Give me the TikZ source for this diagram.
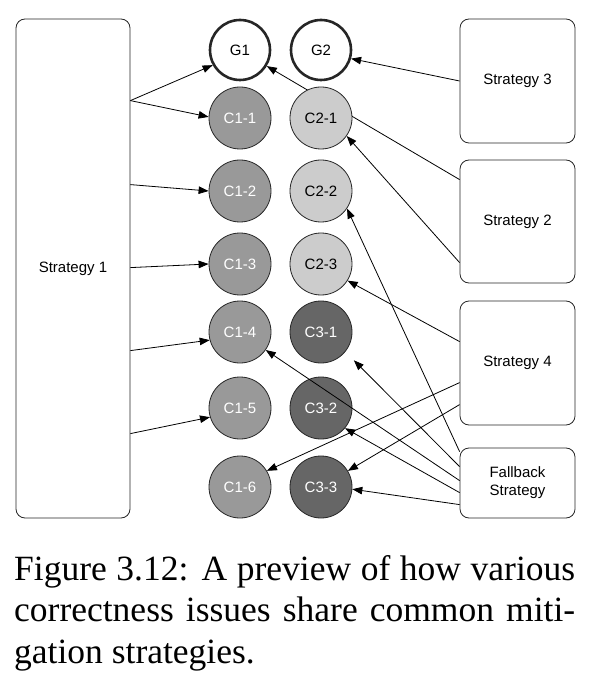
\documentclass[tikz,border=0pt]{standalone}
\usepackage{fontspec}
\setmainfont{Liberation Serif}
\setsansfont{Liberation Sans}
\usepackage{tikz}
\usetikzlibrary{positioning, arrows.meta, calc, backgrounds}
\definecolor{gris_c1}{HTML}{999999}
\definecolor{gris_c2}{HTML}{CCCCCC}
\definecolor{gris_c3}{HTML}{666666}
\tikzset{
    box_estrategia/.style={rectangle, rounded corners=9pt, draw=black!85, line width=0.8pt, fill=white, minimum width=115pt, inner sep=0pt, align=center, font=\sffamily\fontsize{15}{18}\selectfont},
    circ_base/.style={circle, draw=black!85, line width=0.8pt, minimum size=62pt, inner sep=0pt, font=\sffamily\fontsize{15}{18}\selectfont},
    flecha/.style={-{Triangle[length=10pt, width=7.5pt]}, line width=0.8pt, draw=black}
}

\begin{document}
\begin{tikzpicture}[
        x=1pt, y=-1pt,
        % Circulos de metas (borde grueso)
        circ_meta/.style={
            circ_base, fill=white, line width=2.6pt, minimum size=60pt
        },
        % Circulos de problemas (tres tonos de gris)
        circ_c1/.style={circ_base, fill=gris_c1, text=white},
        circ_c2/.style={circ_base, fill=gris_c2},
        circ_c3/.style={circ_base, fill=gris_c3, text=white},
        leyenda/.style={
            inner sep=0pt, anchor=base west
        }
    ]
    \useasboundingbox (0,0) rectangle (604,684);

    % 1. Cajas de estrategias
    \node[box_estrategia, minimum width=114pt, minimum height=499pt] (s1) at (73,268.5) {Strategy 1};
    \node[box_estrategia, minimum height=124pt] (s3) at (517.5,81) {Strategy 3};
    \node[box_estrategia, minimum height=123pt] (s2) at (517.5,221.5) {Strategy 2};
    \node[box_estrategia, minimum height=124pt] (s4) at (517.5,363) {Strategy 4};
    \node[box_estrategia, minimum height=70pt] (fb) at (517.5,483) {Fallback\\Strategy};

    % 2. Metas
    \node[circ_meta] (g1) at (240,50) {G1};
    \node[circ_meta] (g2) at (321,50) {G2};

    % 3. Columna izquierda de problemas
    \node[circ_c1] (c11) at (240,118) {C1-1};
    \node[circ_c1] (c12) at (240,191) {C1-2};
    \node[circ_c1] (c13) at (240,264) {C1-3};
    \node[circ_c1] (c14) at (240,332) {C1-4};
    \node[circ_c1] (c15) at (240,408) {C1-5};
    \node[circ_c1] (c16) at (240,487) {C1-6};

    % 4. Columna derecha de problemas
    \node[circ_c2] (c21) at (321,118) {C2-1};
    \node[circ_c2] (c22) at (321,191) {C2-2};
    \node[circ_c2] (c23) at (321,264) {C2-3};
    \node[circ_c3] (c31) at (321,332) {C3-1};
    \node[circ_c3] (c32) at (321,408) {C3-2};
    \node[circ_c3] (c33) at (321,487) {C3-3};

    % 5. Leyenda (texto justificado)
    \node[leyenda] (leyenda) at (14,580) {\parbox[t]{561pt}{\fontsize{35.5}{41.5}\selectfont
        Figure 3.12: A preview of how various\linebreak correctness issues share common miti-\linebreak gation strategies.}};

    % --- CONEXIONES ---

    % Strategy 1 hacia la columna izquierda
    \draw[flecha] ($(s1.north east)+(0,82)$) -- (g1.209);
    \draw[flecha] ($(s1.north east)+(0,82)$) -- (c11.178);
    \draw[flecha] ($(s1.north east)+(0,166)$) -- (c12.west);
    \draw[flecha] ($(s1.north east)+(0,249)$) -- (c13.west);
    \draw[flecha] ($(s1.north east)+(0,332)$) -- (c14.195);
    \draw[flecha] ($(s1.north east)+(0,415)$) -- (c15.197);

    % Strategy 3 y Strategy 2 (la linea hacia G1 pasa por debajo de C2-1)
    \draw[flecha] (s3.west) -- (g2.344);
    \begin{scope}[on background layer]
        \draw[flecha] ($(s2.north west)+(0,20)$) -- (g1.329);
    \end{scope}
    \draw[flecha] ($(s2.north west)+(0,103)$) -- (c21.325);

    % Strategy 4
    \draw[flecha] ($(s4.north west)+(0,41)$) -- (c23.328);
    \draw[flecha] ($(s4.north west)+(0,82)$) -- (c16.31);
    \draw[flecha] ($(s4.north west)+(0,104)$) -- (c33.31);

    % Fallback Strategy
    \draw[flecha] ($(fb.north west)+(0,4)$) -- (c22.326);
    \draw[flecha, shorten >=12pt] ($(fb.north west)+(0,19)$) -- (c31.321);
    \draw[flecha] ($(fb.north west)+(0,33)$) -- (c14.325);
    \draw[flecha] ($(fb.north west)+(0,45)$) -- (c32.320);
    \draw[flecha] ($(fb.north west)+(0,57)$) -- (c33.356);

\end{tikzpicture}
\end{document}
